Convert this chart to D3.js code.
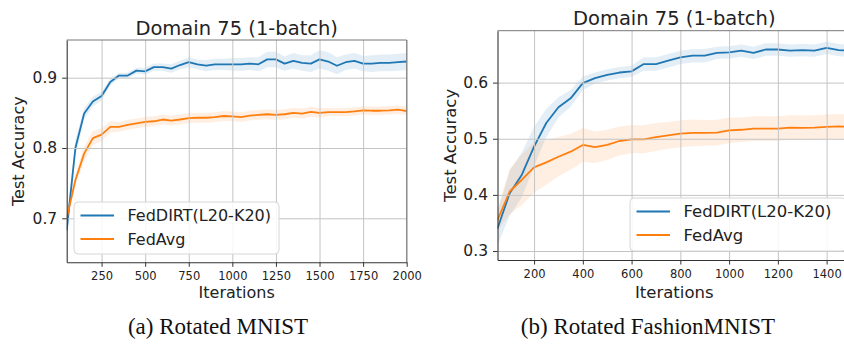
<!DOCTYPE html>
<html>
<head>
<meta charset="utf-8">
<script src="https://cdn.jsdelivr.net/npm/d3@7"></script>
<style>
  html, body { margin: 0; padding: 0; background: #fff; }
  svg { display: block; }
  text { font-family: "DejaVu Sans", sans-serif; fill: #222; }
  text.caption { font-family: "Liberation Serif", "Times New Roman", serif; fill: #111; }
</style>
</head>
<body>
<svg id="chart" width="844" height="350"></svg>
<script>
// ---- Rotated MNIST, Domain 75 (1-batch) ----
const mnistIters = [50, 100, 150, 200, 250, 300, 350, 400, 450, 500,
  550, 600, 650, 700, 750, 800, 850, 900, 950, 1000,
  1050, 1100, 1150, 1200, 1250, 1300, 1350, 1400, 1450, 1500,
  1550, 1600, 1650, 1700, 1750, 1800, 1850, 1900, 1950, 2000];
const mnistFedDIRT = [0.683, 0.800, 0.849, 0.866, 0.874, 0.894, 0.903, 0.903, 0.910, 0.909,
  0.915, 0.915, 0.913, 0.918, 0.922, 0.919, 0.917, 0.919, 0.919, 0.919,
  0.919, 0.920, 0.919, 0.926, 0.926, 0.920, 0.924, 0.921, 0.920, 0.926,
  0.923, 0.917, 0.922, 0.924, 0.920, 0.920, 0.921, 0.921, 0.922, 0.923];
const mnistFedDIRTSpread = [0.015, 0.012, 0.008, 0.007, 0.006, 0.005, 0.004, 0.004, 0.004, 0.005,
  0.005, 0.005, 0.006, 0.006, 0.007, 0.007, 0.008, 0.008, 0.008, 0.009,
  0.009, 0.009, 0.010, 0.011, 0.011, 0.010, 0.011, 0.011, 0.012, 0.013,
  0.013, 0.012, 0.011, 0.011, 0.011, 0.012, 0.012, 0.012, 0.012, 0.012];
const mnistFedAvg = [0.700, 0.7545, 0.792, 0.814, 0.819, 0.830, 0.830, 0.833, 0.835, 0.837,
  0.838, 0.8405, 0.839, 0.8405, 0.8425, 0.843, 0.843, 0.844, 0.8455, 0.845,
  0.844, 0.846, 0.847, 0.848, 0.847, 0.848, 0.850, 0.849, 0.8515, 0.850,
  0.851, 0.851, 0.851, 0.852, 0.8535, 0.853, 0.853, 0.8535, 0.8545, 0.8525];
const mnistFedAvgSpread = [0.006, 0.008, 0.010, 0.010, 0.009, 0.008, 0.007, 0.007, 0.007, 0.007,
  0.007, 0.007, 0.007, 0.007, 0.007, 0.007, 0.007, 0.007, 0.007, 0.007,
  0.007, 0.007, 0.007, 0.007, 0.007, 0.007, 0.007, 0.007, 0.007, 0.007,
  0.006, 0.006, 0.006, 0.006, 0.006, 0.006, 0.006, 0.006, 0.006, 0.006];
const mnistXTicks = [250, 500, 750, 1000, 1250, 1500, 1750, 2000];
const mnistYTicks = [0.7, 0.8, 0.9];

// ---- Rotated FashionMNIST, Domain 75 (1-batch) ----
const fashionIters = [50, 100, 150, 200, 250, 300, 350, 400, 450, 500,
  550, 600, 650, 700, 750, 800, 850, 900, 950, 1000,
  1050, 1100, 1150, 1200, 1250, 1300, 1350, 1400, 1450, 1500];
const fashionFedDIRT = [0.340, 0.403, 0.436, 0.486, 0.528, 0.556, 0.572, 0.599, 0.608, 0.614,
  0.618, 0.620, 0.633, 0.633, 0.639, 0.645, 0.648, 0.648, 0.653, 0.654,
  0.657, 0.653, 0.659, 0.659, 0.657, 0.658, 0.657, 0.662, 0.658, 0.657];
const fashionFedDIRTSpread = [0.030, 0.040, 0.040, 0.035, 0.025, 0.018, 0.015, 0.012, 0.010, 0.010,
  0.010, 0.010, 0.012, 0.012, 0.012, 0.012, 0.012, 0.012, 0.011, 0.011,
  0.011, 0.011, 0.011, 0.011, 0.011, 0.011, 0.011, 0.011, 0.011, 0.011];
const fashionFedAvg = [0.355, 0.406, 0.427, 0.449, 0.458, 0.468, 0.477, 0.489, 0.485, 0.489,
  0.496, 0.499, 0.499, 0.503, 0.506, 0.509, 0.5105, 0.5105, 0.511, 0.515,
  0.516, 0.518, 0.518, 0.518, 0.520, 0.5195, 0.520, 0.521, 0.522, 0.521];
const fashionFedAvgSpread = [0.020, 0.040, 0.045, 0.045, 0.040, 0.035, 0.032, 0.030, 0.028, 0.027,
  0.026, 0.025, 0.025, 0.025, 0.024, 0.024, 0.024, 0.023, 0.023, 0.023,
  0.022, 0.022, 0.022, 0.022, 0.022, 0.022, 0.022, 0.022, 0.022, 0.022];
const fashionXTicks = [200, 400, 600, 800, 1000, 1200, 1400];
const fashionYTicks = [0.3, 0.4, 0.5, 0.6];

const seriesNames = ["FedDIRT(L20-K20)", "FedAvg"];
const seriesColors = ["#1f77b4", "#ff7f0e"];
const chartTitle = "Domain 75 (1-batch)";
const xLabel = "Iterations";
const yLabel = "Test Accuracy";
const captions = ["(a) Rotated MNIST", "(b) Rotated FashionMNIST"];

const svg = d3.select("#chart");

const panels = [
  {
    iters: mnistIters,
    series: [
      { mean: mnistFedDIRT, spread: mnistFedDIRTSpread },
      { mean: mnistFedAvg, spread: mnistFedAvgSpread }
    ],
    xTicks: mnistXTicks, yTicks: mnistYTicks,
    xDomain: [50, 2000], yDomain: [0.6374, 0.9536],
    left: 66.7, right: 406.7, top: 40, bottom: 262.3,
    tickFont: 15.5, xTickFont: 11.5, labelFont: 16, titleFont: 19.5,
    yLabelX: 18.5,
    legend: { x: 74, y: 202, w: 205, h: 52, font: 16 },
    caption: captions[0], captionX: 218
  },
  {
    iters: fashionIters,
    series: [
      { mean: fashionFedDIRT, spread: fashionFedDIRTSpread },
      { mean: fashionFedAvg, spread: fashionFedAvgSpread }
    ],
    xTicks: fashionXTicks, yTicks: fashionYTicks,
    xDomain: [50, 1500], yDomain: [0.284, 0.6925],
    left: 497.5, right: 851, top: 30.7, bottom: 260,
    tickFont: 15.5, xTickFont: 11.5, labelFont: 16.5, titleFont: 19.5,
    yLabelX: 450,
    legend: { x: 630, y: 198, w: 216, h: 53, font: 16.5 },
    caption: captions[1], captionX: 648
  }
];

panels.forEach((p, pi) => {
  const x = d3.scaleLinear().domain(p.xDomain).range([p.left, p.right]);
  const y = d3.scaleLinear().domain(p.yDomain).range([p.bottom, p.top]);
  const w = p.right - p.left, h = p.bottom - p.top;
  const g = svg.append("g");

  const clipId = "plot-clip-" + pi;
  g.append("clipPath").attr("id", clipId)
    .append("rect").attr("x", p.left).attr("y", p.top).attr("width", w).attr("height", h);

  // shaded bands (mean ± spread)
  const plot = g.append("g").attr("clip-path", `url(#${clipId})`);
  p.series.forEach((s, i) => {
    const band = d3.area()
      .x((d, j) => x(p.iters[j]))
      .y0((d, j) => y(s.mean[j] - s.spread[j]))
      .y1((d, j) => y(s.mean[j] + s.spread[j]));
    plot.append("path").datum(s.mean)
      .attr("d", band)
      .attr("fill", seriesColors[i])
      .attr("fill-opacity", 0.12);
  });

  // grid
  const gridX = g.append("g").attr("transform", `translate(0,${p.bottom})`)
    .call(d3.axisBottom(x).tickValues(p.xTicks).tickSize(-h).tickFormat(""));
  const gridY = g.append("g").attr("transform", `translate(${p.left},0)`)
    .call(d3.axisLeft(y).tickValues(p.yTicks).tickSize(-w).tickFormat(""));
  [gridX, gridY].forEach(gr => {
    gr.select(".domain").remove();
    gr.selectAll("line").attr("stroke", "#c4c4c4").attr("stroke-width", 1);
  });

  // mean curves
  p.series.forEach((s, i) => {
    const line = d3.line()
      .x((d, j) => x(p.iters[j]))
      .y(d => y(d));
    plot.append("path").datum(s.mean)
      .attr("d", line)
      .attr("fill", "none")
      .attr("stroke", seriesColors[i])
      .attr("stroke-width", 1.8)
      .attr("stroke-linejoin", "round");
  });

  // spines
  g.append("line").attr("x1", p.left).attr("x2", p.right).attr("y1", p.top).attr("y2", p.top)
    .attr("stroke", "#777").attr("stroke-width", 1);
  g.append("line").attr("x1", p.right).attr("x2", p.right).attr("y1", p.top).attr("y2", p.bottom)
    .attr("stroke", "#777").attr("stroke-width", 1);

  // axes
  const xAxis = g.append("g").attr("transform", `translate(0,${p.bottom})`)
    .call(d3.axisBottom(x).tickValues(p.xTicks).tickSize(4.5).tickPadding(5).tickSizeOuter(0).tickFormat(d3.format("d")));
  const yAxis = g.append("g").attr("transform", `translate(${p.left},0)`)
    .call(d3.axisLeft(y).tickValues(p.yTicks).tickSize(4.5).tickPadding(5).tickSizeOuter(0).tickFormat(d3.format(".1f")));
  [xAxis, yAxis].forEach(ax => {
    ax.select(".domain").attr("stroke", "#333").attr("stroke-width", 1.1);
    ax.selectAll(".tick line").attr("stroke", "#333").attr("stroke-width", 1);
    ax.selectAll("text").attr("fill", "#222");
  });
  xAxis.selectAll("text").attr("font-size", p.xTickFont);
  yAxis.selectAll("text").attr("font-size", p.tickFont);

  // title and axis labels
  g.append("text").attr("x", (p.left + p.right) / 2).attr("y", p.top - 5.5)
    .attr("text-anchor", "middle").attr("font-size", p.titleFont).text(chartTitle);
  g.append("text").attr("x", (p.left + p.right) / 2).attr("y", 298)
    .attr("text-anchor", "middle").attr("font-size", p.labelFont).text(xLabel);
  g.append("text")
    .attr("transform", `translate(${p.yLabelX},${(p.top + p.bottom) / 2}) rotate(-90)`)
    .attr("text-anchor", "middle").attr("dy", "0.35em")
    .attr("font-size", p.labelFont).text(yLabel);

  // legend
  const L = p.legend;
  const lg = g.append("g");
  lg.append("rect").attr("x", L.x).attr("y", L.y).attr("width", L.w).attr("height", L.h)
    .attr("rx", 4).attr("fill", "#fff").attr("fill-opacity", 0.85)
    .attr("stroke", "#d6d6d6").attr("stroke-width", 1);
  seriesNames.forEach((name, i) => {
    const cy = L.y + 13.5 + i * 23.5;
    lg.append("line").attr("x1", L.x + 6.5).attr("x2", L.x + 40)
      .attr("y1", cy).attr("y2", cy)
      .attr("stroke", seriesColors[i]).attr("stroke-width", 1.8);
    lg.append("text").attr("x", L.x + 53.5).attr("y", cy).attr("dy", "0.36em")
      .attr("font-size", L.font).text(name);
  });

  // caption under the panel
  svg.append("text").attr("class", "caption")
    .attr("x", p.captionX).attr("y", 334)
    .attr("text-anchor", "middle")
    .attr("font-size", 23)
    .text(p.caption);
});
</script>
</body>
</html>
